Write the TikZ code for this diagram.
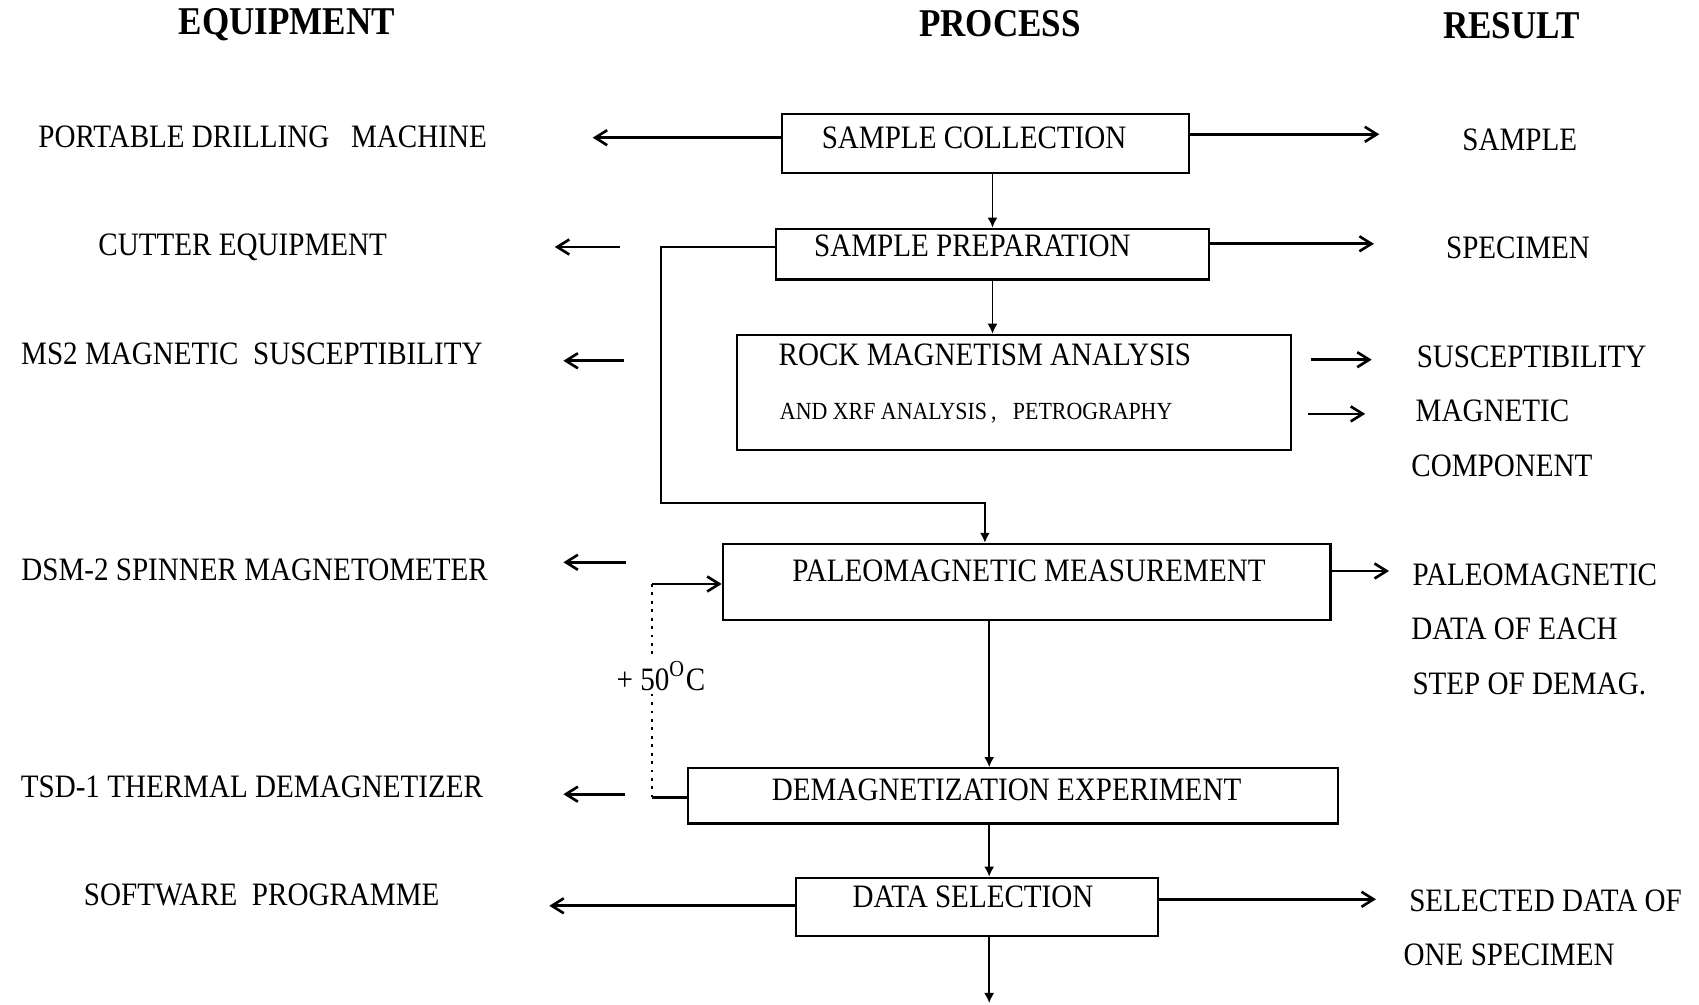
\documentclass[tikz,border=0pt]{standalone}
\usepackage{fontspec}
\setmainfont{Liberation Serif}[FakeStretch=0.89]
\usetikzlibrary{arrows.meta}

\begin{document}
\begin{tikzpicture}
\tikzstyle{procbox}=[rectangle, draw, line width=0.6pt, inner sep=0pt]
\tikzstyle{boxtext}=[inner sep=0pt, anchor=base, font=\fontsize{9.3}{11}\selectfont]
\tikzstyle{smalltext}=[inner sep=0pt, anchor=base, font=\fontsize{7}{8}\selectfont]
\tikzstyle{headtext}=[inner sep=0pt, anchor=base, font=\fontsize{11.2}{13}\selectfont\bfseries]
\tikzstyle{restext}=[boxtext, anchor=base west]
\tikzstyle{sideflow}=[line width=0.75pt, -{Straight Barb[length=1.2mm,width=1.5mm]}]
\tikzstyle{mainflow}=[line width=0.45pt, -{Latex[length=1mm,width=1mm]}]

\useasboundingbox (0,0) rectangle (16.99,-10.05);

% headings
\node[headtext] (H0) at (2.87,-0.347) {EQUIPMENT};
\node[headtext] (H1) at (10.00,-0.368) {PROCESS};
\node[headtext] (H2) at (15.115,-0.39) {RESULT};

% equipment
\node[boxtext] (E0) at (2.627,-1.474) {PORTABLE DRILLING~~~MACHINE};
\node[boxtext] (E1) at (2.427,-2.557) {CUTTER EQUIPMENT};
\node[boxtext] (E2) at (2.519,-3.641) {MS2 MAGNETIC~~SUSCEPTIBILITY};
\node[boxtext] (E3) at (2.546,-5.808) {DSM-2 SPINNER MAGNETOMETER};
\node[boxtext] (E4) at (2.519,-7.975) {TSD-1 THERMAL DEMAGNETIZER};
\node[boxtext] (E5) at (2.617,-9.058) {SOFTWARE~~PROGRAMME};

% process boxes
\node[procbox, minimum width=4.063cm, minimum height=0.596cm] (B0) at (9.855,-1.436) {};
\node[procbox, minimum width=4.334cm, minimum height=0.509cm] (B1) at (9.925,-2.541) {};
\node[procbox, minimum width=5.537cm, minimum height=1.149cm] (B2) at (10.137,-3.922) {};
\node[procbox, minimum width=6.078cm, minimum height=0.759cm] (B3) at (10.266,-5.818) {};
\node[procbox, minimum width=6.501cm, minimum height=0.553cm] (B4) at (10.131,-7.958) {};
\node[procbox, minimum width=3.619cm, minimum height=0.585cm] (B5) at (9.773,-9.069) {};

\node[boxtext] (T0) at (9.741,-1.484) {SAMPLE COLLECTION};
\node[boxtext] (T1) at (9.724,-2.568) {SAMPLE PREPARATION};
\node[boxtext] (T2) at (9.849,-3.651) {ROCK MAGNETISM ANALYSIS};
\node[smalltext] (T2b) at (9.762,-4.193) {AND XRF ANALYSIS\,,~~~PETROGRAPHY};
\node[boxtext] (T3) at (10.29,-5.818) {PALEOMAGNETIC MEASUREMENT};
\node[boxtext] (T4) at (10.066,-8.007) {DEMAGNETIZATION EXPERIMENT};
\node[boxtext] (T5) at (9.73,-9.08) {DATA SELECTION};

% results
\node[restext] (R0) at (14.617,-1.506) {SAMPLE};
\node[restext] (R1) at (14.454,-2.59) {SPECIMEN};
\node[restext] (R2) at (14.161,-3.673) {SUSCEPTIBILITY};
\node[restext] (R3) at (14.150,-4.215) {MAGNETIC};
\node[restext] (R3b) at (14.107,-4.767) {COMPONENT};
\node[restext] (R4) at (14.118,-5.851) {PALEOMAGNETIC};
\node[restext] (R4b) at (14.107,-6.393) {DATA OF EACH};
\node[restext] (R4c) at (14.118,-6.945) {STEP OF DEMAG.};
\node[restext] (R5) at (14.086,-9.112) {SELECTED DATA OF};
\node[restext] (R5b) at (14.03,-9.654) {ONE SPECIMEN};

% main flow
\coordinate (S0) at (9.925,0);
\coordinate (S1) at (9.892,0);
\coordinate (End) at (9.892,-10.03);
\draw[mainflow] (B0.south -| S0) -- (B1.north -| S0);
\draw[mainflow] (B1.south -| S0) -- (B2.north -| S0);
\draw[mainflow] (B3.south -| S1) -- (B4.north -| S1);
\draw[mainflow] (B4.south -| S1) -- (B5.north -| S1);
\draw[mainflow] (B5.south -| S1) -- (End);

% bypass of rock magnetism
\coordinate (K0) at (6.609,-2.467);
\coordinate (K1) at (6.609,-5.027);
\coordinate (K2) at (9.849,-5.027);
\draw[mainflow, line width=0.6pt] (B1.west |- K0) -- (K0) -- (K1) -- (K2) -- (B3.north -| K2);

% to equipment
\coordinate (L0) at (5.927,-1.377);
\draw[sideflow] (B0.west |- L0) -- (L0);
\coordinate (L1a) at (6.198,-2.47);
\coordinate (L1) at (5.548,-2.47);
\draw[sideflow] (L1a) -- (L1);
\coordinate (L2a) at (6.241,-3.608);
\coordinate (L2) at (5.634,-3.608);
\draw[sideflow] (L2a) -- (L2);
\coordinate (L3a) at (6.263,-5.623);
\coordinate (L3) at (5.634,-5.623);
\draw[sideflow] (L3a) -- (L3);
\coordinate (L4a) at (6.252,-7.942);
\coordinate (L4) at (5.634,-7.942);
\draw[sideflow] (L4a) -- (L4);
\coordinate (L5) at (5.493,-9.058);
\draw[sideflow] (B5.west |- L5) -- (L5);

% to results
\coordinate (M0) at (13.793,-1.343);
\draw[sideflow] (B0.east |- M0) -- (M0);
\coordinate (M1) at (13.739,-2.438);
\draw[sideflow] (B1.east |- M1) -- (M1);
\coordinate (M2a) at (13.110,-3.597);
\coordinate (M2) at (13.717,-3.597);
\draw[sideflow] (M2a) -- (M2);
\coordinate (M3a) at (13.078,-4.139);
\coordinate (M3) at (13.652,-4.139);
\draw[sideflow] (M3a) -- (M3);
\coordinate (M4) at (13.890,-5.710);
\draw[sideflow] (B3.east |- M4) -- (M4);
\coordinate (M5) at (13.760,-8.993);
\draw[sideflow] (B5.east |- M5) -- (M5);

% demagnetization loop
\coordinate (F0) at (6.523,-5.840);
\coordinate (F1) at (6.523,-7.975);
\draw[sideflow] (F0) -- (B3.west |- F0);
\draw[line width=0.6pt, dash pattern=on 0.8pt off 1.6pt] (F0) -- (F1);
\draw[line width=0.75pt] (F1) -- (B4.west |- F1);
\node[boxtext, fill=white, inner sep=1pt] (Temp) at (6.609,-6.902) {+ 50\textsuperscript{O}C};
\end{tikzpicture}
\end{document}
